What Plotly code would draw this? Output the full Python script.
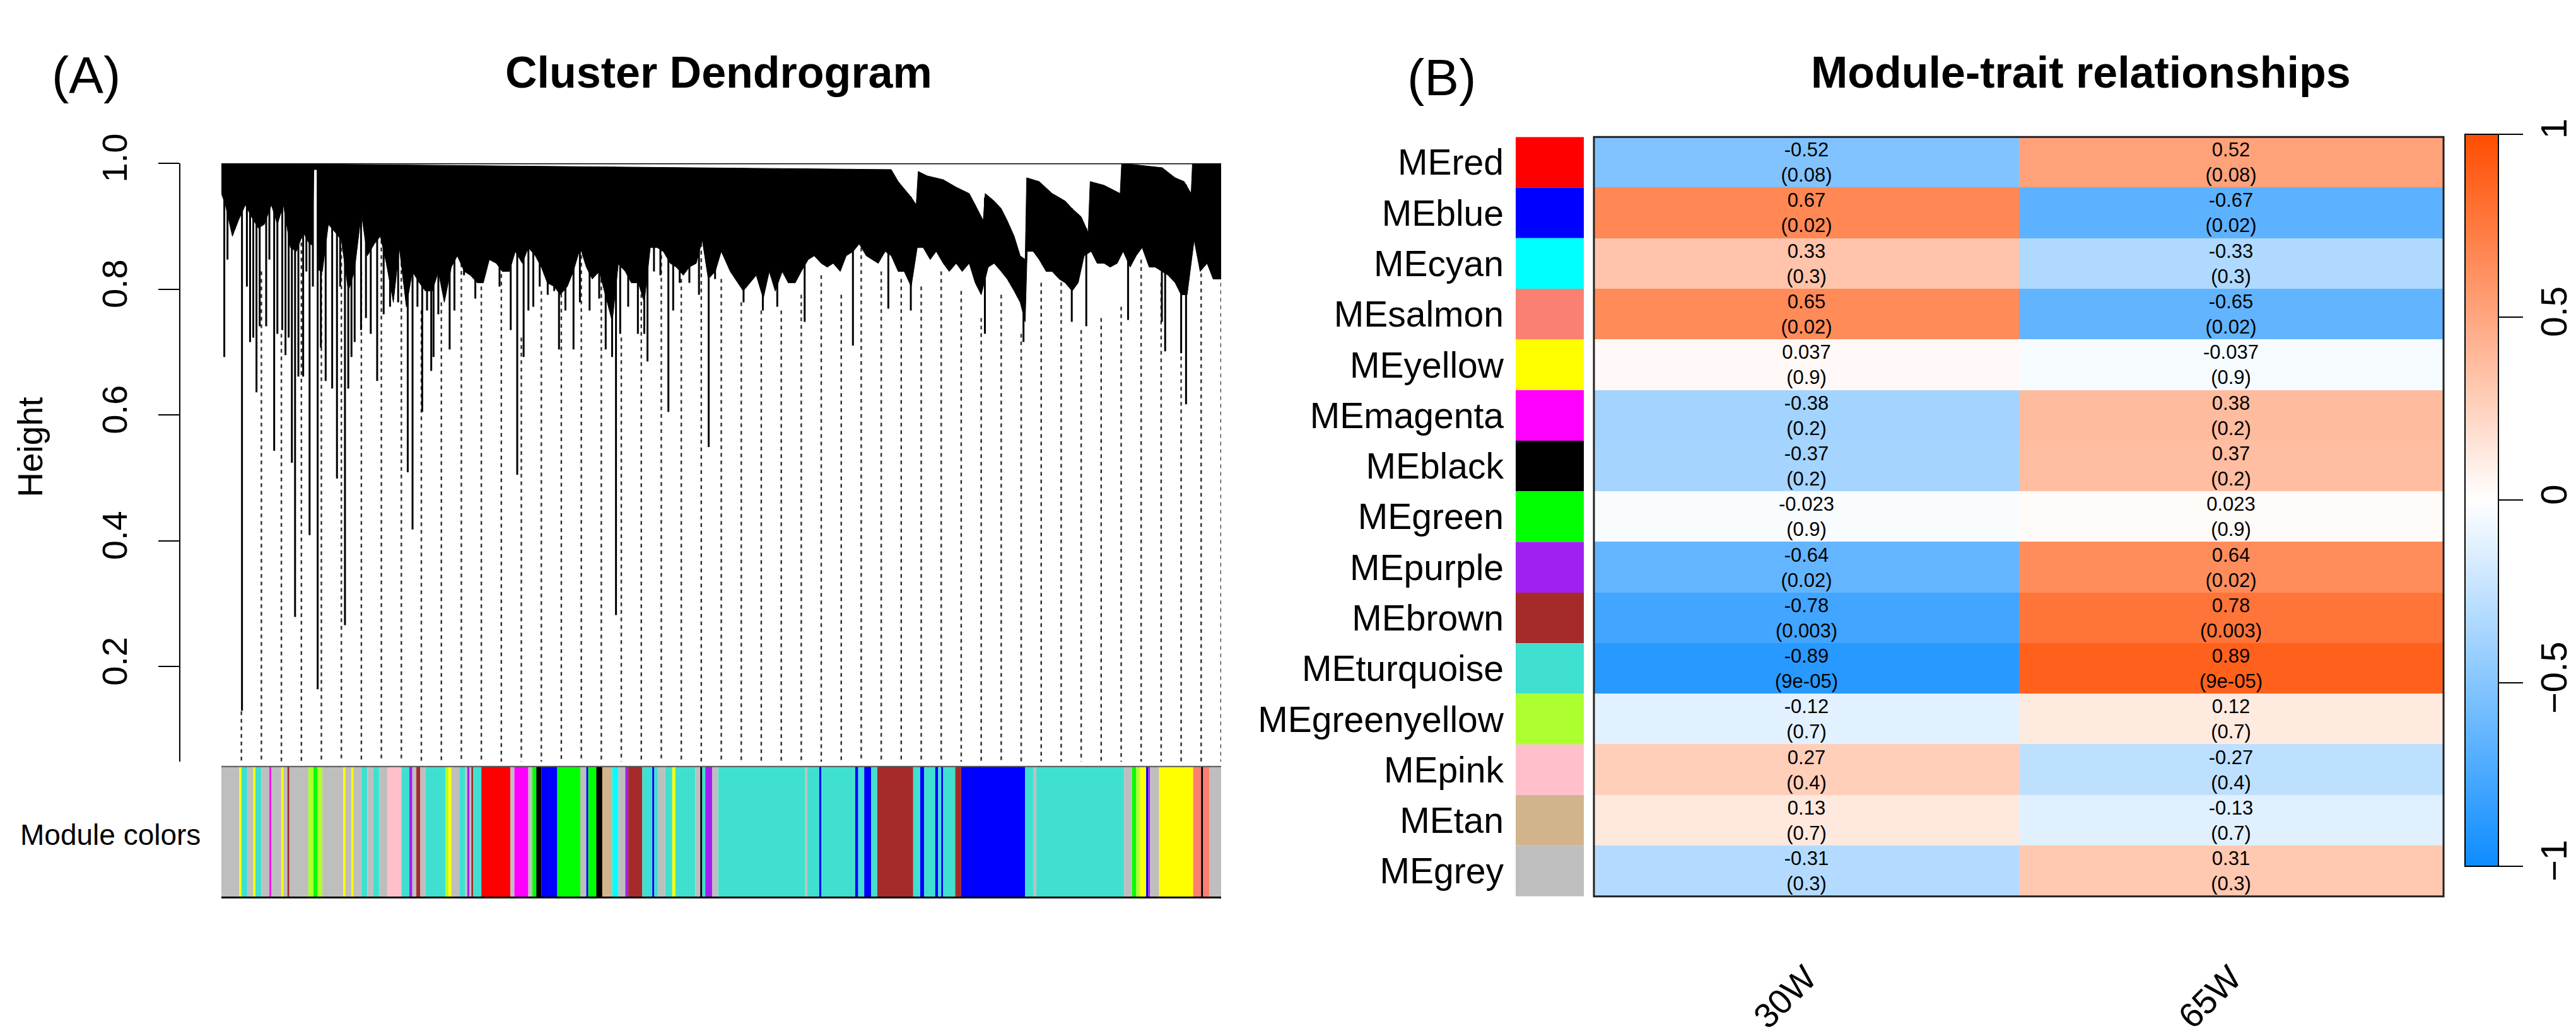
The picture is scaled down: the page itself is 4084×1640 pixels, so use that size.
import numpy as np
import plotly.graph_objects as go

W, H = 4084, 1640
FONT = "Liberation Sans, Arial, sans-serif"

# ---------------- (A) Cluster dendrogram (leaf order scaled to 0..1000) ----------------
# upper edge of the dense black mass (merge heights)
canopy_top_u = [0, 670, 677, 690, 695, 697, 706, 722, 735, 748, 754, 762, 764, 773, 780, 786,
                793, 799, 804, 805.5, 818, 831, 844, 851, 860, 867, 869, 883, 899, 900.5, 941,
                954, 963, 970, 971.3, 1000]
canopy_top_h = [1.0, 0.99, 0.971, 0.946, 0.934, 0.987, 0.980, 0.974, 0.962, 0.952, 0.934, 0.909,
                0.952, 0.940, 0.928, 0.909, 0.884, 0.853, 0.847, 0.977, 0.971, 0.952, 0.940,
                0.928, 0.915, 0.890, 0.971, 0.965, 0.952, 1.0, 0.993, 0.977, 0.971, 0.952, 1.0, 1.0]

# lower edge of the dense black mass
canopy_bot_u = [0, 4, 11, 17, 24, 30, 37, 43, 50, 56, 62, 69, 75, 82, 88, 91, 92.5, 96, 97.5, 101,
                107, 114, 120, 127, 133, 140, 146, 153, 159, 165, 172, 178, 185, 191, 198, 204, 211,
                217, 223, 230, 236, 243, 249, 256, 262, 268, 275, 281, 288, 294, 301, 307, 314, 320,
                326, 333, 339, 346, 352, 359, 365, 371, 378, 384, 391, 397, 404, 410, 417, 423, 429,
                436, 442, 449, 455, 462, 468, 475, 481, 487, 494, 500, 509, 522, 535, 542, 548, 554,
                561, 567, 574, 580, 587, 593, 600, 606, 612, 619, 625, 632, 638, 645, 651, 657, 664,
                670, 677, 683, 690, 696, 702, 709, 715, 722, 728, 735, 741, 748, 754, 760, 767, 773,
                780, 786, 793, 799, 804, 806, 812, 818, 825, 831, 838, 844, 851, 857, 863, 870, 876,
                883, 889, 896, 902, 909, 915, 921, 928, 934, 941, 947, 954, 960, 966, 973, 979, 986,
                992, 1000]
canopy_bot_h = [0.952, 0.934, 0.884, 0.909, 0.934, 0.915, 0.897, 0.903, 0.934, 0.903,
                0.934, 0.866, 0.860, 0.890, 0.872, 0.870, 0.990, 0.990, 0.830, 0.828,
                0.903, 0.890, 0.878, 0.797, 0.828, 0.921, 0.853, 0.872, 0.884, 0.841,
                0.779, 0.866, 0.772, 0.828, 0.810, 0.797, 0.797, 0.828, 0.779, 0.835,
                0.853, 0.828, 0.822, 0.810, 0.810, 0.847, 0.841, 0.828, 0.828, 0.860,
                0.841, 0.866, 0.853, 0.835, 0.810, 0.804, 0.791, 0.804, 0.828, 0.866,
                0.835, 0.816, 0.828, 0.791, 0.748, 0.840, 0.828, 0.810, 0.810, 0.779,
                0.866, 0.866, 0.860, 0.841, 0.835, 0.822, 0.835, 0.841, 0.878, 0.816,
                0.828, 0.860,
                0.828, 0.797, 0.822, 0.785, 0.828, 0.797, 0.828, 0.810, 0.810, 0.828,
                0.847, 0.853, 0.841, 0.835, 0.841, 0.828, 0.853, 0.860, 0.872, 0.853,
                0.847, 0.841, 0.860, 0.853, 0.828, 0.828, 0.804, 0.866, 0.866, 0.847,
                0.860, 0.841, 0.828, 0.841, 0.828, 0.841, 0.810, 0.791, 0.835, 0.841,
                0.828, 0.816, 0.797, 0.779, 0.748, 0.860, 0.860, 0.847, 0.828, 0.828,
                0.816, 0.810, 0.797, 0.810, 0.853, 0.860, 0.841, 0.841, 0.835, 0.841,
                0.860, 0.835, 0.853, 0.866, 0.835, 0.835, 0.828, 0.822, 0.810, 0.791,
                0.791, 0.878, 0.828, 0.841, 0.816, 0.816]

# single branches hanging below the mass
stick_u = [2.9, 6.1, 20.6, 25.5, 28.7, 31.9, 35.1, 38.3, 44.8, 48, 52.8, 56, 60.9, 64.1, 67.3,
           70.5, 73.7, 77, 81.8, 85, 88.2, 91.5, 96.3, 99.5, 104.3, 110.8, 115.6, 118.8, 123.6,
           126.9, 130.1, 133.3, 139.7, 144.6, 149.4, 155.8, 162.3, 168.7, 176.8, 186.4, 191.2,
           196.1, 200.9, 205.7, 209.9, 212.2, 217, 228.3, 233.1, 242.7, 254, 258.8, 278.2, 289.4,
           295.9, 302.3, 307.1, 312, 318.4, 326.4, 332.9, 337.7, 344.1, 352.2, 358.6, 368.3,
           377.9, 384.4, 390.8, 394.7, 398.9, 406.9, 416.6, 423, 426.2, 432.7, 439.1, 447.1,
           451.9, 458.4, 468.1, 477.7, 487.4, 493.8, 522.3, 541.6, 556, 583.4, 631.7, 667.1,
           689.6, 763.7, 802.3, 850.6, 865.1, 906.9, 940.7, 944, 960, 964.9]
stick_h = [0.692, 0.847, 0.130, 0.804, 0.716, 0.723, 0.636, 0.741, 0.741, 0.847, 0.543, 0.729,
           0.735, 0.695, 0.723, 0.524, 0.279, 0.661, 0.661, 0.828, 0.409, 0.804, 0.164, 0.707,
           0.654, 0.642, 0.499, 0.804, 0.266, 0.642, 0.692, 0.716, 0.735, 0.754, 0.729, 0.654,
           0.760, 0.772, 0.779, 0.509, 0.418, 0.772, 0.605, 0.766, 0.670, 0.692, 0.760, 0.704,
           0.766, 0.822, 0.785, 0.816, 0.804, 0.735, 0.505, 0.692, 0.766, 0.772, 0.804, 0.791,
           0.797, 0.704, 0.766, 0.704, 0.779, 0.766, 0.785, 0.704, 0.692, 0.282, 0.729, 0.772,
           0.729, 0.729, 0.685, 0.828, 0.822, 0.605, 0.766, 0.810, 0.810, 0.791, 0.549, 0.816,
           0.779, 0.766, 0.772, 0.748, 0.710, 0.769, 0.766, 0.729, 0.716, 0.748, 0.741, 0.751,
           0.748, 0.701, 0.698, 0.617]

# heights where the 50 dashed guide lines start
guide_top = [0.129, 0.828, 0.729, 0.934, 0.828, 0.866, 0.828, 0.890, 0.866, 0.766,
             0.779, 0.853, 0.804, 0.860, 0.723, 0.797, 0.841, 0.866, 0.828, 0.723,
             0.816, 0.890, 0.816, 0.897, 0.816, 0.779, 0.766, 0.766, 0.791, 0.822,
             0.791, 0.890, 0.828, 0.816, 0.804, 0.828, 0.797, 0.754, 0.791, 0.729,
             0.810, 0.835, 0.735, 0.754, 0.772, 0.847, 0.810, 0.729, 0.909, 0.822]

# module colour strip under the tree
strip_edges = [0, 18, 20, 26, 32, 34, 40, 48, 50, 60, 62, 66, 68, 87, 92, 96, 101, 122, 124, 130,
               132, 140, 146, 152, 158, 166, 180, 188, 191, 195, 199, 204, 224, 227, 230, 238, 244,
               246, 248, 250, 252, 260, 289, 293, 307, 311, 315, 320, 336, 359, 365, 367, 375, 381,
               391, 397, 404, 407, 421, 431, 433, 437, 444, 451, 454, 474, 479, 481, 484, 491, 497,
               584, 586, 598, 600, 634, 637, 643, 650, 656, 692, 699, 703, 714, 717, 720, 722, 734,
               740, 804, 812, 815, 903, 911, 915, 919, 925, 927, 929, 938, 972, 980, 982, 988, 1000]
strip_modules = ["grey", "yellow", "turquoise", "grey", "yellow", "turquoise", "grey", "magenta",
                 "grey", "yellow", "grey", "brown", "grey", "greenyellow", "green", "greenyellow",
                 "grey", "yellow", "grey", "yellow", "grey", "turquoise", "grey", "turquoise",
                 "grey", "pink", "turquoise", "purple", "grey", "brown", "grey", "turquoise",
                 "greenyellow", "yellow", "grey", "turquoise", "grey", "purple", "grey", "brown",
                 "turquoise", "red", "grey", "magenta", "grey", "green", "black", "blue", "green",
                 "grey", "blue", "green", "black", "tan", "cyan", "grey", "purple", "brown",
                 "turquoise", "blue", "turquoise", "grey", "turquoise", "yellow", "turquoise",
                 "grey", "black", "turquoise", "purple", "grey", "turquoise", "grey", "turquoise",
                 "blue", "turquoise", "blue", "turquoise", "blue", "turquoise", "brown",
                 "turquoise", "blue", "turquoise", "blue", "turquoise", "blue", "turquoise",
                 "brown", "blue", "turquoise", "grey", "turquoise", "grey", "green", "greenyellow",
                 "yellow", "blue", "purple", "grey", "yellow", "salmon", "black", "salmon", "grey"]

# ---------------- (B) Module-trait relationships ----------------
modules = ["MEred", "MEblue", "MEcyan", "MEsalmon", "MEyellow", "MEmagenta", "MEblack", "MEgreen",
           "MEpurple", "MEbrown", "MEturquoise", "MEgreenyellow", "MEpink", "MEtan", "MEgrey"]
traits = ["30W", "65W"]
cor_30w = [-0.52, 0.67, 0.33, 0.65, 0.037, -0.38, -0.37, -0.023, -0.64, -0.78, -0.89, -0.12,
           0.27, 0.13, -0.31]
cor_65w = [0.52, -0.67, -0.33, -0.65, -0.037, 0.38, 0.37, 0.023, 0.64, 0.78, 0.89, 0.12,
           -0.27, -0.13, 0.31]
p_values = [0.08, 0.02, 0.3, 0.02, 0.9, 0.2, 0.2, 0.9, 0.02, 0.003, 9e-05, 0.7, 0.4, 0.7, 0.3]

R_COLORS = {
    "grey": "#BEBEBE", "turquoise": "#40E0D0", "blue": "#0000FF", "brown": "#A52A2A",
    "yellow": "#FFFF00", "green": "#00FF00", "red": "#FF0000", "black": "#000000",
    "pink": "#FFC0CB", "magenta": "#FF00FF", "purple": "#A020F0", "greenyellow": "#ADFF2F",
    "tan": "#D2B48C", "salmon": "#FA8072", "cyan": "#00FFFF",
}


def fx(px):
    """"""
    return px / W


def fy(px):
    """"""
    return 1 - px / H


def dendro_traces():
    """"""
    y_bottom = 0.049
    traces = []

    gx, gy = [], []
    for i, top in enumerate(guide_top):
        u = (i + 1) * 1000 / len(guide_top)
        gx += [u, u, None]
        gy += [top, y_bottom, None]
    traces.append(go.Scatter(x=gx, y=gy, mode="lines", hoverinfo="skip",
                             line=dict(color="#333333", width=2.5, dash="6px,6px"),
                             xaxis="x", yaxis="y"))

    cx = canopy_top_u + canopy_bot_u[::-1]
    cy = canopy_top_h + canopy_bot_h[::-1]
    traces.append(go.Scatter(x=cx, y=cy, mode="lines", fill="toself", fillcolor="black",
                             line=dict(color="black", width=1), hoverinfo="skip",
                             xaxis="x", yaxis="y"))

    stick_top = np.interp(stick_u, canopy_top_u, canopy_top_h)
    sx, sy = [], []
    for u, top, bot in zip(stick_u, stick_top, stick_h):
        sx += [u, u, None]
        sy += [top, bot, None]
    traces.append(go.Scatter(x=sx, y=sy, mode="lines", line=dict(color="black", width=3),
                             hoverinfo="skip", xaxis="x", yaxis="y"))

    traces.append(go.Scatter(x=[0, 1000], y=[1.0, 1.0], mode="lines",
                             line=dict(color="black", width=3), hoverinfo="skip",
                             xaxis="x", yaxis="y"))

    centers = [(a + b) / 2 for a, b in zip(strip_edges[:-1], strip_edges[1:])]
    widths = [b - a for a, b in zip(strip_edges[:-1], strip_edges[1:])]
    traces.append(go.Bar(x=centers, y=[1] * len(centers), width=widths,
                         marker=dict(color=[R_COLORS[m] for m in strip_modules],
                                     line=dict(width=0)),
                         hoverinfo="skip", xaxis="x2", yaxis="y2"))
    return traces


def heatmap_traces():
    """"""
    side = go.Bar(y=modules, x=[1] * len(modules), orientation="h", width=1,
                  marker=dict(color=[R_COLORS[m[2:]] for m in modules], line=dict(width=0)),
                  hoverinfo="skip", xaxis="x3", yaxis="y3")

    z = [[a, b] for a, b in zip(cor_30w, cor_65w)]
    text = [[f"{a:g}<br>({p:g})", f"{b:g}<br>({p:g})"]
            for a, b, p in zip(cor_30w, cor_65w, p_values)]
    heat = go.Heatmap(
        z=z, x=traits, y=modules, text=text, texttemplate="%{text}",
        textfont=dict(size=31, color="black", family=FONT),
        colorscale=[[0, "rgb(13,140,255)"], [0.5, "rgb(255,255,255)"], [1, "rgb(255,77,0)"]],
        zmin=-1, zmax=1, xaxis="x4", yaxis="y4", hoverinfo="skip",
        colorbar=dict(
            x=fx(3900), xanchor="left", y=fy(760), yanchor="middle",
            len=1195 / H, lenmode="fraction", thickness=53, thicknessmode="pixels",
            xpad=0, ypad=0, outlinewidth=2, outlinecolor="black",
            tickvals=[-1, -0.5, 0, 0.5, 1], ticktext=["\u22121", "\u22120.5", "0", "0.5", "1"],
            ticks="outside", ticklen=38, tickwidth=2, tickcolor="black", tickangle=-90,
            tickfont=dict(size=58, color="black", family=FONT),
        ),
    )
    return [side, heat]


fig = go.Figure(data=dendro_traces() + heatmap_traces())

fig.update_layout(
    width=W, height=H, margin=dict(l=0, r=0, t=0, b=0),
    paper_bgcolor="white", plot_bgcolor="white", showlegend=False, barmode="overlay",
    font=dict(family=FONT, color="black"),
    xaxis=dict(domain=[fx(343), fx(1928)], range=[0, 1000], visible=False, anchor="y"),
    yaxis=dict(domain=[fy(1187), fy(210)], range=[0.049, 1.0], anchor="free", position=fx(277),
               showline=True, linecolor="black", linewidth=2, ticks="outside", ticklen=33,
               tickwidth=2, tickcolor="black", tickvals=[0.2, 0.4, 0.6, 0.8, 1.0],
               ticktext=["0.2", "0.4", "0.6", "0.8", "1.0"], tickangle=-90,
               tickfont=dict(size=56), showgrid=False, zeroline=False, ticklabelstandoff=28),
    xaxis2=dict(domain=[fx(343), fx(1928)], range=[0, 1000], visible=False, anchor="y2"),
    yaxis2=dict(domain=[fy(1409), fy(1195)], range=[0, 1], visible=False, anchor="x2"),
    xaxis3=dict(domain=[fx(2395), fx(2503)], range=[0, 1], visible=False, anchor="y3"),
    yaxis3=dict(domain=[fy(1407), fy(167)], autorange="reversed", anchor="x3", ticks="",
                showgrid=False, zeroline=False, showline=False, tickfont=dict(size=57),
                ticklabelstandoff=18),
    xaxis4=dict(domain=[fx(2519), fx(3866)], anchor="y4", tickangle=-45, ticks="",
                showgrid=False, tickfont=dict(size=55), ticklabelstandoff=85),
    yaxis4=dict(domain=[fy(1407), fy(167)], anchor="x4", autorange="reversed",
                showticklabels=False, ticks="", showgrid=False),
)

fig.add_shape(type="rect", xref="paper", yref="paper", x0=fx(2519), x1=fx(3866),
              y0=fy(1407), y1=fy(167), line=dict(color="#222222", width=3))
fig.add_shape(type="line", xref="paper", yref="paper", x0=fx(343), x1=fx(1928),
              y0=fy(1195), y1=fy(1195), line=dict(color="#555555", width=2))
fig.add_shape(type="line", xref="paper", yref="paper", x0=fx(343), x1=fx(1928),
              y0=fy(1409), y1=fy(1409), line=dict(color="black", width=3))

notes = [
    dict(x=fx(128), y=fy(65), text="(A)", font=dict(size=82)),
    dict(x=fx(1131), y=fy(62), text="<b>Cluster Dendrogram</b>", font=dict(size=70)),
    dict(x=fx(2277), y=fy(69), text="(B)", font=dict(size=82)),
    dict(x=fx(3291), y=fy(62), text="<b>Module-trait relationships</b>", font=dict(size=70)),
    dict(x=fx(40), y=fy(674), text="Height", textangle=-90, font=dict(size=55)),
    dict(x=fx(312), y=fy(1306), text="Module colors", xanchor="right", font=dict(size=46)),
]
for n in notes:
    n.setdefault("xanchor", "center")
    fig.add_annotation(xref="paper", yref="paper", yanchor="middle", showarrow=False, **n)

fig.write_html("out.html")
